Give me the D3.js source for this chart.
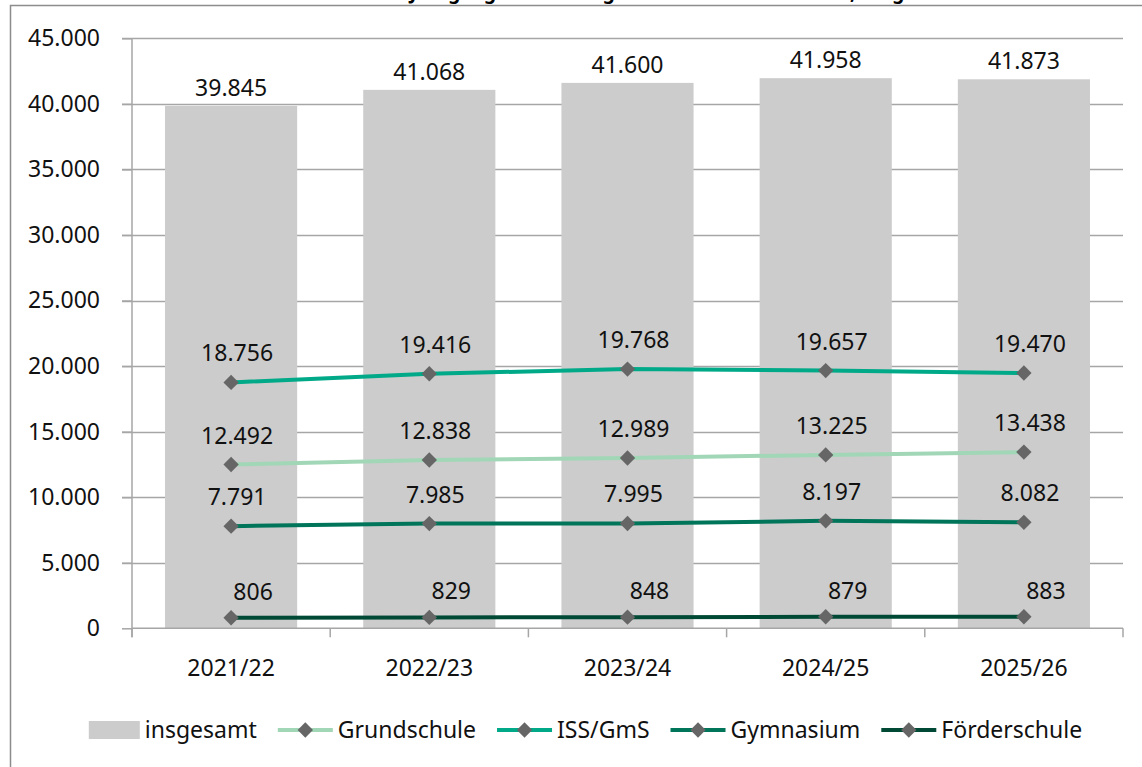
<!DOCTYPE html>
<html lang="de">
<head>
    <meta charset="UTF-8">
    <script src="https://cdn.jsdelivr.net/npm/d3@7"></script>
    <style>
        * { margin: 0; padding: 0; }
        body { background: #fff; font-family: "Noto Sans", sans-serif; }
        svg { display: block; }
    </style>
    <title>Schülerzahlen nach Schularten</title>
</head>
<body>
<div id="chart"></div>
<script>
    // Daten
    var categories = ["2021/22", "2022/23", "2023/24", "2024/25", "2025/26"];
    var insgesamt = [39845, 41068, 41600, 41958, 41873];
    var grundschule = [12492, 12838, 12989, 13225, 13438];
    var issGms = [18756, 19416, 19768, 19657, 19470];
    var gymnasium = [7791, 7985, 7995, 8197, 8082];
    var foerderschule = [806, 829, 848, 879, 883];
    var yTicks = [0, 5000, 10000, 15000, 20000, 25000, 30000, 35000, 40000, 45000];
    var seriesNames = ["Grundschule", "ISS/GmS", "Gymnasium", "Förderschule"];
    var seriesColors = ["#a1d7b6", "#00a988", "#00755a", "#004a35"];

    var w = 1142, h = 767;
    var plotLeft = 132, plotRight = 1123, plotTop = 38.3, plotBottom = 628.3;

    var de = d3.formatLocale({decimal: ",", thousands: ".", grouping: [3], currency: ["", " €"]});
    var fmt = de.format(",d");

    var svg = d3.select("#chart").append("svg")
        .attr("width", w)
        .attr("height", h);

    // Rahmen (rechts und unten ausserhalb des Bildes)
    svg.append("rect")
        .attr("x", 10.5).attr("y", 5.5)
        .attr("width", 1200).attr("height", 800)
        .attr("fill", "none")
        .attr("stroke", "#8c8c8c")
        .attr("stroke-width", 1.5);

    // Titel, oben abgeschnitten
    svg.append("text")
        .attr("x", 600).attr("y", -1)
        .attr("text-anchor", "middle")
        .attr("font-weight", "bold")
        .attr("font-size", "19px")
        .text("Schülerinnen und Schüler in Jahrgangsstufe 7 insgesamt und nach Schulart, Prognose bis 2025/26");

    var xScale = d3.scaleBand()
        .domain(categories)
        .range([plotLeft, plotRight])
        .paddingInner(1 / 3)
        .paddingOuter(1 / 6);

    var yScale = d3.scaleLinear()
        .domain([0, 45000])
        .range([plotBottom, plotTop]);

    var cx = function(i) { return xScale(categories[i]) + xScale.bandwidth() / 2; };

    // Gitterlinien
    svg.append("g")
        .selectAll("line")
        .data(yTicks.slice(1))
        .enter()
        .append("line")
        .attr("x1", plotLeft - 10).attr("x2", plotRight)
        .attr("y1", function(d) { return Math.round(yScale(d)) + 0.5; })
        .attr("y2", function(d) { return Math.round(yScale(d)) + 0.5; })
        .attr("stroke", "#a6a6a6")
        .attr("stroke-width", 1.5);

    // Balken insgesamt
    svg.append("g")
        .selectAll("rect")
        .data(insgesamt)
        .enter()
        .append("rect")
        .attr("x", function(d, i) { return xScale(categories[i]); })
        .attr("y", function(d) { return yScale(d); })
        .attr("width", xScale.bandwidth())
        .attr("height", function(d) { return plotBottom - yScale(d); })
        .attr("fill", "#cccccc");

    svg.append("g")
        .selectAll("text")
        .data(insgesamt)
        .enter()
        .append("text")
        .attr("x", function(d, i) { return cx(i); })
        .attr("y", function(d) { return yScale(d) - 10; })
        .attr("text-anchor", "middle")
        .attr("font-size", "23px")
        .attr("fill", "#111")
        .text(function(d) { return fmt(d); });

    // Achsen
    var yAxis = d3.axisLeft(yScale)
        .tickValues(yTicks)
        .tickSize(10)
        .tickPadding(22)
        .tickFormat(fmt);

    var gy = svg.append("g")
        .attr("transform", "translate(" + plotLeft + ",0)")
        .call(yAxis);
    gy.select(".domain").remove();
    gy.selectAll(".tick line").attr("stroke", "#a6a6a6").attr("stroke-width", 1.5);
    gy.selectAll(".tick text")
        .attr("font-family", "'Noto Sans', sans-serif")
        .attr("font-size", "23px")
        .attr("fill", "#111");
    gy.append("line")
        .attr("x1", 0).attr("x2", 0)
        .attr("y1", plotTop).attr("y2", plotBottom + 9)
        .attr("stroke", "#a6a6a6").attr("stroke-width", 1.5);

    var gx = svg.append("g")
        .attr("transform", "translate(0," + plotBottom + ")");
    gx.append("line")
        .attr("x1", plotLeft).attr("x2", plotRight)
        .attr("stroke", "#a6a6a6").attr("stroke-width", 1.5);
    var step = xScale.step();
    gx.selectAll(".sep")
        .data(d3.range(categories.length + 1))
        .enter()
        .append("line")
        .attr("x1", function(d) { return plotLeft + d * step; })
        .attr("x2", function(d) { return plotLeft + d * step; })
        .attr("y1", 0).attr("y2", 9)
        .attr("stroke", "#a6a6a6").attr("stroke-width", 1.5);
    gx.selectAll(".cat")
        .data(categories)
        .enter()
        .append("text")
        .attr("x", function(d, i) { return cx(i); })
        .attr("y", 48)
        .attr("text-anchor", "middle")
        .attr("font-size", "23px")
        .attr("fill", "#111")
        .text(function(d) { return d; });

    // Linien
    var lineData = [grundschule, issGms, gymnasium, foerderschule];
    var labelDx = [6, 6, 6, 22];
    var labelDy = [-21, -21, -21, -18];

    var line = d3.line()
        .x(function(d, i) { return cx(i); })
        .y(function(d) { return yScale(d); });

    var diamond = d3.symbol().type(d3.symbolDiamond2).size(150);

    lineData.forEach(function(values, s) {
        var g = svg.append("g");
        g.append("path")
            .datum(values)
            .attr("d", line)
            .attr("fill", "none")
            .attr("stroke", seriesColors[s])
            .attr("stroke-width", 4);
        g.selectAll("path.marker")
            .data(values)
            .enter()
            .append("path")
            .attr("class", "marker")
            .attr("d", diamond)
            .attr("transform", function(d, i) { return "translate(" + cx(i) + "," + yScale(d) + ")"; })
            .attr("fill", "#666666");
        g.selectAll("text")
            .data(values)
            .enter()
            .append("text")
            .attr("x", function(d, i) { return cx(i) + labelDx[s]; })
            .attr("y", function(d) { return yScale(d) + labelDy[s]; })
            .attr("text-anchor", "middle")
            .attr("font-size", "23px")
            .attr("fill", "#111")
            .text(function(d) { return fmt(d); });
    });

    // Legende
    var legend = svg.append("g");
    var lx = 0, ly = 730, itemGap = 21;
    var items = [{name: "insgesamt", type: "bar"}].concat(seriesNames.map(function(n, i) {
        return {name: n, type: "line", color: seriesColors[i]};
    }));
    items.forEach(function(it) {
        var g = legend.append("g").attr("transform", "translate(" + lx + ",0)");
        var symW = it.type === "bar" ? 51 : 55;
        if (it.type === "bar") {
            g.append("rect")
                .attr("x", 0).attr("y", ly - 9)
                .attr("width", symW).attr("height", 18)
                .attr("fill", "#cccccc");
        } else {
            g.append("line")
                .attr("x1", 0).attr("x2", symW)
                .attr("y1", ly).attr("y2", ly)
                .attr("stroke", it.color).attr("stroke-width", 4);
            g.append("path")
                .attr("d", diamond)
                .attr("transform", "translate(" + (symW / 2) + "," + ly + ")")
                .attr("fill", "#666666");
        }
        var t = g.append("text")
            .attr("x", symW + 5)
            .attr("y", ly + 8)
            .attr("font-size", "23px")
            .attr("fill", "#111")
            .text(it.name);
        lx += symW + 5 + t.node().getComputedTextLength() + itemGap;
    });
    var legendW = lx - itemGap;
    legend.attr("transform", "translate(" + (585.5 - legendW / 2) + ",0)");
</script>
</body>
</html>
